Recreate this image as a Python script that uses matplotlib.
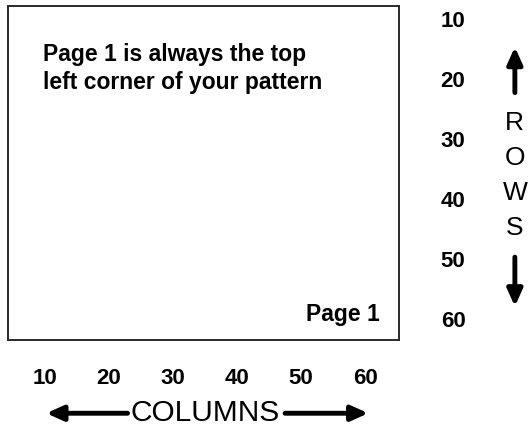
import matplotlib.pyplot as plt

# labels along the edges of the page
col_labels = [10, 20, 30, 40, 50, 60]
row_labels = [10, 20, 30, 40, 50, 60]
rows_word = ["R", "O", "W", "S"]
note_text = "Page 1 is always the top\nleft corner of your pattern"
page_text = "Page 1"

plt.rcParams['font.family'] = ['Liberation Sans', 'DejaVu Sans']

W, H = 532, 428
fig = plt.figure(figsize=(W / 100, H / 100), dpi=100)
fig.patch.set_facecolor('white')

# the page box, in pixel units of the figure
left, top, right, bottom = 8, 6, 399, 340
ax = fig.add_axes([left / W, (H - bottom) / H, (right - left) / W, (bottom - top) / H])
ax.set_xlim(4.22, 65.3)
ax.set_ylim(62.8, 7.17)
ax.set_xticks([])
ax.set_yticks([])
for s in ax.spines.values():
    s.set_linewidth(1.4)
    s.set_color('#2a2a2a')

ax.text(0.09, 0.89, note_text, transform=ax.transAxes, ha='left', va='top',
        fontsize=16.5, fontweight='bold', linespacing=1.28)
ax.text(0.952, 0.075, page_text, transform=ax.transAxes, ha='right', va='center',
        fontsize=16.5, fontweight='bold')

# column numbers under the box
for c in col_labels:
    ax.text(c, 69.2, str(c), ha='center', va='center', fontsize=16,
            fontweight='bold', clip_on=False)

# row numbers to the right
for r in row_labels:
    ax.text(73.75, r - 0.3, str(r), ha='center', va='center', fontsize=16,
            fontweight='bold', clip_on=False)

# COLUMNS with arrows (shafts stop just short of the word)
ax.text(sum(col_labels) / len(col_labels), 75.0, "COLUMNS", ha='center', va='center',
        fontsize=21.5, clip_on=False)
arw = dict(arrowstyle='-|>,head_length=1.0,head_width=0.45', color='black', lw=3.5,
           shrinkA=0, shrinkB=0)
ax.annotate("", xy=(col_labels[0] + 0.2, 75.0), xytext=(22.9, 75.0), arrowprops=arw,
            annotation_clip=False)
ax.annotate("", xy=(col_labels[-1] + 0.5, 75.0), xytext=(47.5, 75.0), arrowprops=arw,
            annotation_clip=False)

# ROWS, one letter per line, with arrows
for i, ch in enumerate(rows_word):
    ax.text(83.4, 26.7 + i * 5.8, ch, ha='center', va='center', fontsize=19,
            clip_on=False)
ax.annotate("", xy=(83.4, 14.0), xytext=(83.4, 21.6), arrowprops=arw,
            annotation_clip=False)
ax.annotate("", xy=(83.4, 57.2), xytext=(83.4, 49.0), arrowprops=arw,
            annotation_clip=False)

fig.savefig('out.png', dpi=100, facecolor='white')
